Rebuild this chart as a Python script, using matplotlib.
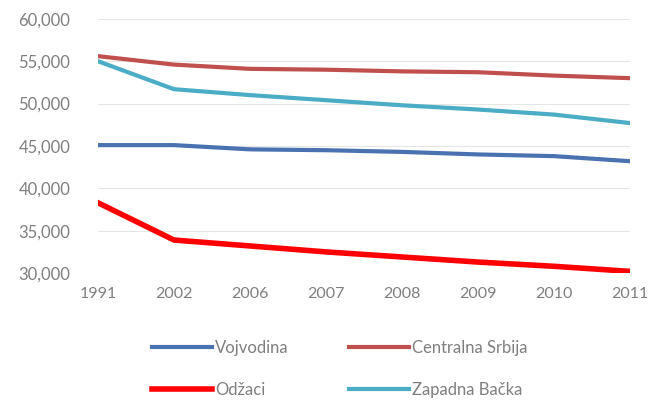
import matplotlib.pyplot as plt
from matplotlib.ticker import FuncFormatter

# Data
years = ['1991', '2002', '2006', '2007', '2008', '2009', '2010', '2011']
vojvodina = [45100, 45100, 44600, 44500, 44300, 44000, 43800, 43200]
centralna_srbija = [55600, 54600, 54100, 54000, 53800, 53700, 53300, 53000]
odzaci = [38300, 33900, 33200, 32500, 31900, 31300, 30800, 30200]
zapadna_backa = [55000, 51700, 51000, 50400, 49800, 49300, 48700, 47700]

plt.rcParams['font.family'] = ['Lato', 'DejaVu Sans']
text_color = '#7f7f7f'

fig = plt.figure(figsize=(6.53, 4.01), dpi=100)
ax = fig.add_axes([0.150, 0.319, 0.815, 0.634])

x = range(len(years))
l1, = ax.plot(x, vojvodina, color='#4a72b0', lw=3, label='Vojvodina')
l2, = ax.plot(x, centralna_srbija, color='#c0504d', lw=3, label='Centralna Srbija')
l3, = ax.plot(x, odzaci, color='#ff0000', lw=4, label='Odžaci')
l4, = ax.plot(x, zapadna_backa, color='#4bacc6', lw=3, label='Zapadna Bačka')

ax.set_ylim(30000, 60000)
ax.set_yticks(range(30000, 60001, 5000))
ax.yaxis.set_major_formatter(FuncFormatter(lambda v, p: f'{int(v):,}'))
ax.set_xlim(0, len(years) - 1)
ax.set_xticks(list(x))
ax.set_xticklabels(years)

ax.grid(axis='y', color='#e6e6e6', lw=0.8)
ax.set_axisbelow(True)
for s in ax.spines.values():
    s.set_visible(False)
ax.tick_params(axis='both', length=0, colors=text_color, labelsize=12)
ax.tick_params(axis='x', labelsize=11.5, pad=10)
ax.tick_params(axis='y', pad=20)

# order so rows read: Vojvodina, Centralna Srbija / Odžaci, Zapadna Bačka
fig.legend([l1, l3, l2, l4], [l1.get_label(), l3.get_label(), l2.get_label(), l4.get_label()],
           loc='lower center', bbox_to_anchor=(0.52, -0.03), ncol=2,
           frameon=False, fontsize=12, labelcolor=text_color,
           handlelength=3.6, handletextpad=0.2, columnspacing=3.6,
           labelspacing=1.55)

fig.savefig('out.png', dpi=100)
